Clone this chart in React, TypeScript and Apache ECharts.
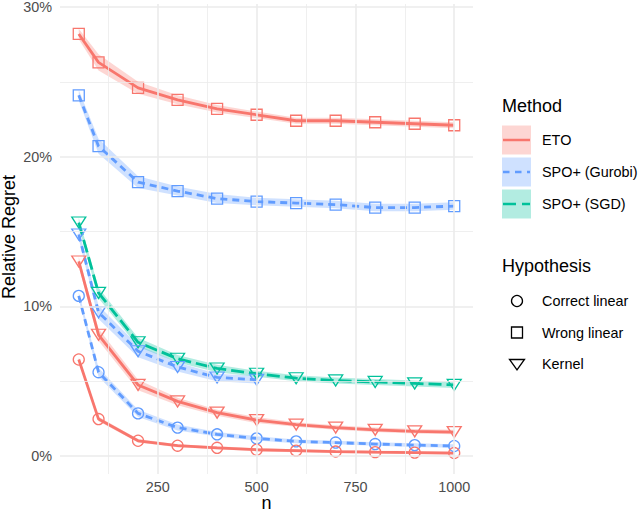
import React, { useEffect, useRef } from "react";
import * as echarts from "echarts";

// ---- data ----
const nAll = [50, 100, 200, 300, 400, 500, 600, 700, 800, 900, 1000];
const nGurobiKernel = [50, 100, 200, 300, 400, 500];

const etoWrong = [28.2, 26.3, 24.6, 23.8, 23.2, 22.8, 22.4, 22.4, 22.3, 22.2, 22.1];
const etoWrongHW = [0.35, 0.55, 0.4, 0.3, 0.25, 0.22, 0.2, 0.2, 0.2, 0.2, 0.2];
const gurobiWrong = [24.1, 20.7, 18.3, 17.7, 17.2, 17.0, 16.9, 16.8, 16.6, 16.6, 16.7];
const gurobiWrongHW = [0.35, 0.5, 0.4, 0.3, 0.3, 0.25, 0.25, 0.25, 0.25, 0.25, 0.25];
const sgdKernel = [15.6, 10.9, 7.6, 6.5, 5.85, 5.5, 5.2, 5.05, 4.95, 4.85, 4.75];
const sgdKernelHW = [0.3, 0.35, 0.3, 0.25, 0.25, 0.2, 0.2, 0.2, 0.2, 0.2, 0.2];
const gurobiKernel = [14.8, 9.6, 7.0, 5.95, 5.25, 5.1];
const gurobiKernelHW = [0.3, 0.45, 0.4, 0.3, 0.25, 0.25];
const etoKernel = [13.0, 8.1, 4.75, 3.65, 2.9, 2.4, 2.1, 1.9, 1.75, 1.65, 1.6];
const etoKernelHW = [0.3, 0.4, 0.35, 0.25, 0.2, 0.2, 0.15, 0.15, 0.15, 0.15, 0.15];
const gurobiCorrect = [10.7, 5.6, 2.85, 1.9, 1.45, 1.18, 0.98, 0.9, 0.8, 0.73, 0.67];
const gurobiCorrectHW = [0.25, 0.3, 0.25, 0.2, 0.15, 0.15, 0.12, 0.12, 0.12, 0.12, 0.12];
const etoCorrect = [6.45, 2.47, 1.02, 0.69, 0.55, 0.42, 0.36, 0.3, 0.26, 0.23, 0.2];
const etoCorrectHW = [0.15, 0.15, 0.12, 0.1, 0.1, 0.1, 0.1, 0.1, 0.1, 0.1, 0.1];

const methods = ["ETO", "SPO+ (Gurobi)", "SPO+ (SGD)"];
const hypotheses = ["Correct linear", "Wrong linear", "Kernel"];

const xMajor = [250, 500, 750, 1000];
const xMinor = [125, 375, 625, 875];
const yMajor = [0, 10, 20, 30];
const yMinor = [5, 15, 25];

// ---- styles ----
const COLORS: Record<string, string> = {
  "ETO": "#F8766D",
  "SPO+ (Gurobi)": "#619CFF",
  "SPO+ (SGD)": "#00C19A",
};
const FILLS: Record<string, string> = {
  "ETO": "rgba(248,118,109,0.3)",
  "SPO+ (Gurobi)": "rgba(97,156,255,0.3)",
  "SPO+ (SGD)": "rgba(0,193,154,0.3)",
};
const DASH: Record<string, any> = {
  "ETO": "solid",
  "SPO+ (Gurobi)": [7, 5],
  "SPO+ (SGD)": [13, 5],
};
const SYMBOL: Record<string, any> = {
  "Correct linear": { symbol: "circle", size: 11, rotate: 0 },
  "Wrong linear": { symbol: "rect", size: 11, rotate: 0 },
  "Kernel": { symbol: "triangle", size: [14, 11], rotate: 180 },
};

const curves = [
  { method: "ETO", hyp: "Wrong linear", xs: nAll, ys: etoWrong, hw: etoWrongHW },
  { method: "SPO+ (Gurobi)", hyp: "Wrong linear", xs: nAll, ys: gurobiWrong, hw: gurobiWrongHW },
  { method: "SPO+ (SGD)", hyp: "Kernel", xs: nAll, ys: sgdKernel, hw: sgdKernelHW },
  { method: "SPO+ (Gurobi)", hyp: "Kernel", xs: nGurobiKernel, ys: gurobiKernel, hw: gurobiKernelHW },
  { method: "ETO", hyp: "Kernel", xs: nAll, ys: etoKernel, hw: etoKernelHW },
  { method: "SPO+ (Gurobi)", hyp: "Correct linear", xs: nAll, ys: gurobiCorrect, hw: gurobiCorrectHW },
  { method: "ETO", hyp: "Correct linear", xs: nAll, ys: etoCorrect, hw: etoCorrectHW },
];

const FONT = "Liberation Sans, Arial, Helvetica, sans-serif";

export default function App() {
  const ref = useRef<HTMLDivElement>(null);

  useEffect(() => {
    if (!ref.current) return;
    const chart = echarts.init(ref.current, null, { renderer: "svg" });

    const gridMarks = [
      ...xMajor.map((v) => ({ xAxis: v, lineStyle: { width: 1.6, color: "#EBEBEB", type: "solid" } })),
      ...xMinor.map((v) => ({ xAxis: v, lineStyle: { width: 0.8, color: "#EBEBEB", type: "solid" } })),
      ...yMajor.map((v) => ({ yAxis: v, lineStyle: { width: 1.6, color: "#EBEBEB", type: "solid" } })),
      ...yMinor.map((v) => ({ yAxis: v, lineStyle: { width: 0.8, color: "#EBEBEB", type: "solid" } })),
    ];

    const ribbonSeries = curves.map((c) => ({
      type: "custom",
      z: 2,
      silent: true,
      clip: false,
      data: [[c.xs[0], c.ys[0]]],
      renderItem: (params: any, api: any) => {
        if (params.dataIndex !== 0) return null;
        const upper = c.xs.map((x, i) => api.coord([x, c.ys[i] + c.hw[i]]));
        const lower = c.xs.map((x, i) => api.coord([x, c.ys[i] - c.hw[i]])).reverse();
        return {
          type: "polygon",
          shape: { points: upper.concat(lower) },
          style: { fill: FILLS[c.method], stroke: "none" },
        };
      },
    }));

    const lineSeries = curves.map((c) => {
      const s = SYMBOL[c.hyp];
      return {
        type: "line",
        z: 3,
        silent: true,
        data: c.xs.map((x, i) => [x, c.ys[i]]),
        symbol: s.symbol,
        symbolSize: s.size,
        symbolRotate: s.rotate,
        showAllSymbol: true,
        lineStyle: { color: COLORS[c.method], width: 2.8, type: DASH[c.method] },
        itemStyle: { color: "rgba(255,255,255,0)", borderColor: COLORS[c.method], borderWidth: 1.3 },
        emphasis: { disabled: true },
      };
    });

    const legendGraphics: any[] = [];
    legendGraphics.push({
      type: "text", left: 502, top: 97,
      style: { text: "Method", font: `18px ${FONT}`, fill: "#000" },
    });
    const keyTops = [125.5, 157.5, 189.5];
    methods.forEach((m, i) => {
      const t = keyTops[i];
      legendGraphics.push({
        type: "rect", shape: { x: 502, y: t, width: 29, height: 29 },
        style: { fill: FILLS[m] },
      });
      legendGraphics.push({
        type: "line", shape: { x1: 503, y1: t + 14.5, x2: 530, y2: t + 14.5 },
        style: { stroke: COLORS[m], lineWidth: 2.5, lineDash: m === "ETO" ? null : m === "SPO+ (Gurobi)" ? [6.5, 5.5] : [13, 6] },
      });
      legendGraphics.push({
        type: "text", x: 542, y: t + 14.5,
        style: { text: m, font: `14.4px ${FONT}`, fill: "#000", verticalAlign: "middle", align: "left" },
      });
    });
    legendGraphics.push({
      type: "text", left: 502, top: 257,
      style: { text: "Hypothesis", font: `18px ${FONT}`, fill: "#000" },
    });
    const hypY = [301, 332.5, 364];
    legendGraphics.push({
      type: "circle", shape: { cx: 517, cy: hypY[0], r: 5.5 },
      style: { fill: "none", stroke: "#000", lineWidth: 1.3 },
    });
    legendGraphics.push({
      type: "rect", shape: { x: 511.5, y: hypY[1] - 5.5, width: 11, height: 11 },
      style: { fill: "none", stroke: "#000", lineWidth: 1.3 },
    });
    legendGraphics.push({
      type: "polygon", shape: { points: [[509.5, hypY[2] - 4.5], [524.5, hypY[2] - 4.5], [517, hypY[2] + 6]] },
      style: { fill: "none", stroke: "#000", lineWidth: 1.3 },
    });
    hypotheses.forEach((h, i) => {
      legendGraphics.push({
        type: "text", x: 542, y: hypY[i],
        style: { text: h, font: `14.4px ${FONT}`, fill: "#000", verticalAlign: "middle", align: "left" },
      });
    });
    // axis titles
    legendGraphics.push({
      type: "text", x: 9, y: 237, rotation: Math.PI / 2,
      style: { text: "Relative Regret", font: `18px ${FONT}`, fill: "#000", align: "center", verticalAlign: "middle" },
    });
    legendGraphics.push({
      type: "text", x: 266.5, y: 503,
      style: { text: "n", font: `18px ${FONT}`, fill: "#000", align: "center", verticalAlign: "middle" },
    });

    const option: any = {
      animation: false,
      backgroundColor: "#fff",
      textStyle: { fontFamily: FONT },
      grid: { left: 60, top: 3, width: 413, height: 471, containLabel: false },
      xAxis: {
        type: "value",
        min: 2.5,
        max: 1047.5,
        axisLine: { show: false },
        axisTick: { show: false },
        splitLine: { show: false },
        axisLabel: {
          customValues: xMajor,
          formatter: (v: number) => String(Math.round(v)),
          color: "#4D4D4D",
          fontSize: 14.4,
          fontFamily: FONT,
          margin: 6,
        },
      },
      yAxis: {
        type: "value",
        min: -1.2,
        max: 30.2,
        axisLine: { show: false },
        axisTick: { show: false },
        splitLine: { show: false },
        axisLabel: {
          customValues: yMajor,
          formatter: (v: number) => `${Math.round(v)}%`,
          color: "#4D4D4D",
          fontSize: 14.4,
          fontFamily: FONT,
          margin: 8,
        },
      },
      graphic: legendGraphics,
      series: [
        {
          type: "line",
          data: [],
          z: 1,
          silent: true,
          markLine: {
            silent: true,
            symbol: "none",
            label: { show: false },
            emphasis: { disabled: true },
            animation: false,
            data: gridMarks,
          },
        },
        ...ribbonSeries,
        ...lineSeries,
      ],
    };

    chart.setOption(option);
    return () => chart.dispose();
  }, []);

  return (
    <div
      ref={ref}
      style={{ position: "absolute", left: 0, top: 0, width: 640, height: 515 }}
    />
  );
}
